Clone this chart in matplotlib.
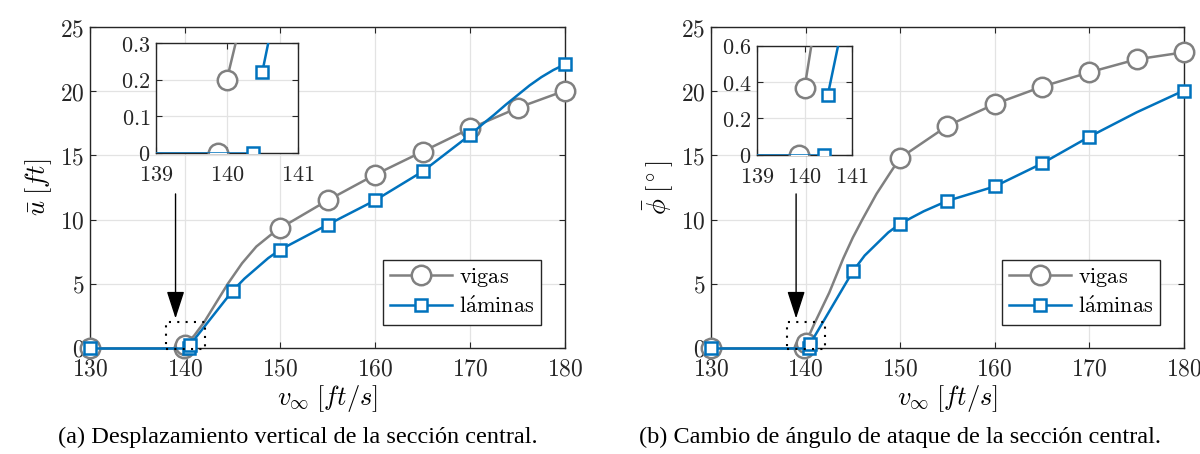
import numpy as np
import matplotlib
matplotlib.use("Agg")
import matplotlib.pyplot as plt
from matplotlib.ticker import FuncFormatter
from matplotlib.lines import Line2D
from matplotlib.patches import Rectangle

plt.rcParams['mathtext.fontset'] = 'cm'
plt.rcParams['font.family'] = 'serif'

GRAY = '#808080'
BLUE = '#0072BD'

# (a) desplazamiento vertical u [ft]
u_vig_pre_x = [130, 139.88]
u_vig_pre_y = [0, 0]
u_vig_x = [140, 141, 142, 143, 144.5, 146, 147.5, 149, 150, 155, 160, 165, 170, 175, 180]
u_vig_y = [0.2, 1.0, 2.0, 3.2, 5.0, 6.6, 7.9, 8.8, 9.33, 11.5, 13.5, 15.3, 17.1, 18.7, 20.05]
u_vig_marks = [0, 8, 9, 10, 11, 12, 13, 14]
u_lam_pre_x = [130, 140.37]
u_lam_pre_y = [0, 0]
u_lam_x = [140.5, 145, 146.25, 147.5, 148.75, 150, 155, 160, 165, 170,
           171.25, 172.5, 173.75, 175, 176.25, 177.5, 178.75, 180]
u_lam_y = [0.22, 4.45, 5.4, 6.2, 7.0, 7.65, 9.6, 11.5, 13.75, 16.6,
           17.4, 18.15, 18.95, 19.7, 20.45, 21.1, 21.65, 22.1]
u_lam_marks = [0, 1, 5, 6, 7, 8, 9, 17]

# (b) cambio de angulo phi [deg]
p_vig_pre_x = [130, 139.88]
p_vig_pre_y = [0, 0]
p_vig_x = [140, 141, 142.5, 144, 145, 146, 147.5, 149, 150, 155, 160, 165, 170, 175, 180]
p_vig_y = [0.37, 2.0, 4.3, 7.0, 8.6, 10.0, 12.0, 13.7, 14.8, 17.3, 19.0, 20.35, 21.47, 22.48, 23.03]
p_vig_marks = [0, 8, 9, 10, 11, 12, 13, 14]
p_lam_pre_x = [130, 140.41]
p_lam_pre_y = [0, 0]
p_lam_x = [140.49, 145, 146.25, 147.5, 148.75, 150, 152.5, 155, 160, 165, 170, 175, 180]
p_lam_y = [0.33, 5.97, 7.2, 8.1, 9.0, 9.68, 10.65, 11.46, 12.58, 14.37, 16.45, 18.35, 20.05]
p_lam_marks = [0, 1, 5, 7, 8, 9, 10, 12]

x_ticks = [130, 140, 150, 160, 170, 180]
y_ticks = [0, 5, 10, 15, 20, 25]
inset_x_ticks = [139, 140, 141]
u_inset_y_ticks = [0, 0.1, 0.2, 0.3]
p_inset_y_ticks = [0, 0.2, 0.4, 0.6]

fmt = FuncFormatter(lambda v, p: f'${v:g}$')
circ = dict(color=GRAY, marker='o', ms=14, mfc='white', mew=1.8, lw=1.8)
sq = dict(color=BLUE, marker='s', ms=8.5, mfc='white', mew=1.8, lw=1.8)


def style(ax, xt, yt, fs=17, xpad=7):
    ax.set_xticks(xt)
    ax.set_yticks(yt)
    ax.xaxis.set_major_formatter(fmt)
    ax.yaxis.set_major_formatter(fmt)
    ax.tick_params(direction='in', top=True, right=True, length=4,
                   labelsize=fs, colors='#262626', pad=4)
    ax.tick_params(axis='x', pad=xpad)
    ax.grid(True, color='#e3e3e3', lw=0.9)
    ax.set_axisbelow(True)
    for s in ax.spines.values():
        s.set_color('#262626')
        s.set_linewidth(1.0)


def panel(rect, inset_rect, vig, lam, ylab, iyt, iylim):
    ax = fig.add_axes(rect)
    (vpx, vpy, vx, vy, vm) = vig
    (lpx, lpy, lx, ly, lm) = lam
    ax.plot(vpx, vpy, **circ, clip_on=False, zorder=3)
    ax.plot(vx, vy, **circ, markevery=vm, clip_on=False, zorder=3)
    ax.plot(lpx, lpy, **sq, clip_on=False, zorder=4)
    ax.plot(lx, ly, **sq, markevery=lm, clip_on=False, zorder=4)
    ax.set_xlim(130, 180)
    ax.set_ylim(0, 25)
    style(ax, x_ticks, y_ticks)
    ax.set_xlabel(r'$v_\infty\;[ft/s]$', fontsize=19, labelpad=2)
    ax.set_ylabel(ylab, fontsize=19, labelpad=4)
    ax.add_patch(Rectangle((138, -0.1), 4.1, 2.1, fill=False, color='k',
                           lw=1.5, ls=(0, (1, 3)), zorder=5, clip_on=False))
    ax.annotate('', xy=(139, 2.3), xytext=(139, 12),
                arrowprops=dict(arrowstyle='-|>,head_length=1.7,head_width=0.55',
                                color='k', lw=1.0, shrinkA=0, shrinkB=0))
    h = [Line2D([], [], **circ), Line2D([], [], **sq)]
    ax.legend(h, [r'$\mathrm{vigas}$', r'$\mathrm{l\acute{a}minas}$'],
              loc='lower right', bbox_to_anchor=(0.949, 0.073), borderaxespad=0,
              fancybox=False, framealpha=1, edgecolor='#262626', fontsize=16,
              handlelength=2.8, borderpad=0.3, labelspacing=0.3,
              handletextpad=0.3).get_frame().set_linewidth(1.0)

    ins = fig.add_axes(inset_rect)
    ins.plot(vpx, vpy, **circ, zorder=3)
    ins.plot(vx, vy, **circ, markevery=vm, zorder=3)
    ins.plot(lpx, lpy, **sq, zorder=4)
    ins.plot(lx, ly, **sq, markevery=lm, zorder=4)
    ins.set_xlim(139, 141)
    ins.set_ylim(*iylim)
    style(ins, inset_x_ticks, iyt, fs=16, xpad=8)
    ins.set_facecolor('white')
    return ax


fig = plt.figure(figsize=(12, 4.54), dpi=100)

panel([0.075, 0.2335, 0.396, 0.707], [0.13, 0.663, 0.118, 0.242],
      (u_vig_pre_x, u_vig_pre_y, u_vig_x, u_vig_y, u_vig_marks),
      (u_lam_pre_x, u_lam_pre_y, u_lam_x, u_lam_y, u_lam_marks),
      r'$\bar{u}\;[ft]$', u_inset_y_ticks, (0, 0.3))
panel([0.5925, 0.2335, 0.394, 0.707], [0.631, 0.659, 0.079, 0.240],
      (p_vig_pre_x, p_vig_pre_y, p_vig_x, p_vig_y, p_vig_marks),
      (p_lam_pre_x, p_lam_pre_y, p_lam_x, p_lam_y, p_lam_marks),
      r'$\bar{\phi}\;[^\circ]$', p_inset_y_ticks, (0, 0.6))

fig.text(0.248, 0.037, '(a) Desplazamiento vertical de la sección central.',
         ha='center', va='center', fontsize=17.5, family='Liberation Serif')
fig.text(0.75, 0.037, '(b) Cambio de ángulo de ataque de la sección central.',
         ha='center', va='center', fontsize=17.5, family='Liberation Serif')

fig.savefig('out.png', dpi=100)
